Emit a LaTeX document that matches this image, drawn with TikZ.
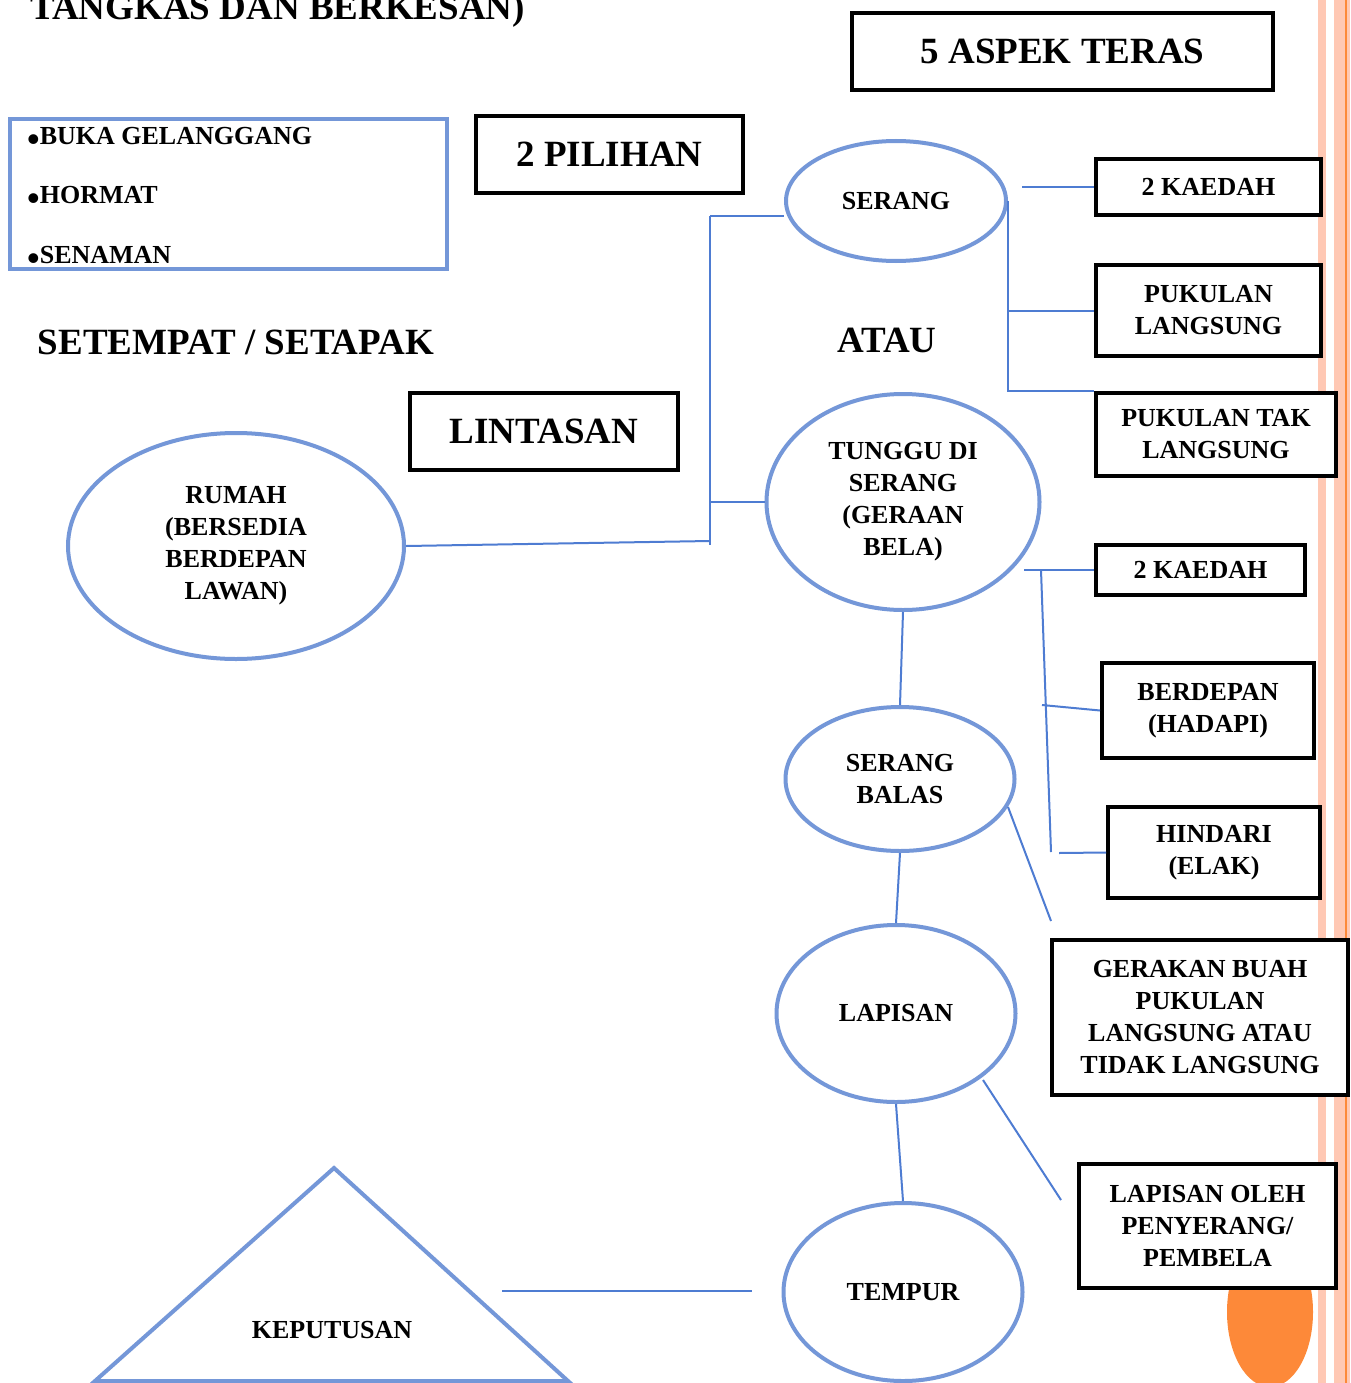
\documentclass[tikz,border=0pt]{standalone}
\usepackage{fontspec}
\setmainfont{Liberation Serif}
\usetikzlibrary{shapes.geometric}
\definecolor{ellblue}{RGB}{116,151,216}
\definecolor{connblue}{RGB}{78,124,210}
\definecolor{salmon}{RGB}{255,200,180}
\definecolor{orng}{RGB}{253,137,57}
\newcommand{\bigbul}{{\fontsize{36}{32}\selectfont\raisebox{-7pt}{•}}}
\tikzset{
  sm/.style={font=\bfseries\fontsize{26}{32}\selectfont},
  bg/.style={font=\bfseries\fontsize{37}{44}\selectfont},
  bbox/.style={draw=black, line width=4pt, fill=white, rectangle, inner sep=0pt, align=center, sm},
  ell/.style={draw=ellblue, line width=4pt, ellipse, inner sep=0pt, align=center, sm},
  conn/.style={draw=connblue, line width=2pt},
}
\begin{document}
\begin{tikzpicture}[x=1pt,y=-1pt]
\useasboundingbox (0,0) rectangle (1350,1383);
\clip (0,0) rectangle (1350,1383);
\fill[white] (0,0) rectangle (1350,1383);
% right stripes
\fill[salmon] (1318,0) rectangle (1326,1383);
\fill[salmon] (1334,0) rectangle (1350,1383);
\fill[orng] (1345,0) rectangle (1347,1383);
\fill[orng] (1270,1312) ellipse [x radius=43, y radius=75];

% title
\node[bg, anchor=base west, inner sep=0pt] (title) at (30,20) {TANGKAS DAN BERKESAN)};

% boxes
\node[bbox, bg, minimum width=421, minimum height=77] (aspek) at (1062.5,51.5) {5 ASPEK TERAS};
\node[bbox, bg, minimum width=267, minimum height=77] (pilihan) at (609.5,154.5) {2 PILIHAN};
\node[bbox, bg, minimum width=268, minimum height=77] (lintasan) at (544,431.5) {LINTASAN};
\node[bbox, minimum width=225, minimum height=56] (k1) at (1208.5,187) {2 KAEDAH};
\node[bbox, minimum width=225, minimum height=91] (pl) at (1208.5,310.5) {PUKULAN\\LANGSUNG};
\node[bbox, minimum width=240, minimum height=83] (ptl) at (1216,434.5) {PUKULAN TAK\\LANGSUNG};
\node[bbox, minimum width=209, minimum height=50] (k2) at (1200.5,570) {2 KAEDAH};
\node[bbox, minimum width=212, minimum height=95] (bd) at (1208,710.5) {BERDEPAN\\(HADAPI)};
\node[bbox, minimum width=212, minimum height=91] (hd) at (1214,852.5) {HINDARI\\(ELAK)};
\node[bbox, minimum width=296, minimum height=155] (gb) at (1200,1017.5) {GERAKAN BUAH\\PUKULAN\\LANGSUNG ATAU\\TIDAK LANGSUNG};
\node[bbox, minimum width=257, minimum height=124] (lo) at (1207.5,1226) {LAPISAN OLEH\\PENYERANG/\\PEMBELA};

% blue list box
\node[draw=ellblue, line width=4pt, rectangle, minimum width=437, minimum height=150, inner sep=0pt] (list) at (228.5,194) {};
\node[sm, anchor=base west, inner sep=0pt] (li1) at (27,145) {\bigbul BUKA GELANGGANG};
\node[sm, anchor=base west, inner sep=0pt] (li2) at (27,204) {\bigbul HORMAT};
\node[sm, anchor=base west, inner sep=0pt] (li3) at (27,263) {\bigbul SENAMAN};

% free labels
\node[bg] (setempat) at (236,342) {SETEMPAT / SETAPAK};
\node[bg] (atau) at (887,340) {ATAU};

% ellipses
\node[ell, minimum width=220, minimum height=120] (serang) at (896,201) {SERANG};
\node[ell, minimum width=273, minimum height=216] (tunggu) at (903,502) {TUNGGU DI\\SERANG\\(GERAAN\\BELA)};
\node[ell, minimum width=336, minimum height=226] (rumah) at (236,546) {RUMAH\\(BERSEDIA\\BERDEPAN\\LAWAN)};
\node[ell, minimum width=229, minimum height=144] (sb) at (900,779) {SERANG\\BALAS};
\node[ell, minimum width=239, minimum height=177] (lap) at (896,1013.5) {LAPISAN};
\node[ell, minimum width=239, minimum height=178] (tempur) at (903,1292) {TEMPUR};

% triangle
\draw[draw=ellblue, line width=4pt, line join=miter] (334,1168) -- (568,1381) -- (95,1381) -- cycle;
\node[sm] (kep) at (332,1330) {KEPUTUSAN};

% connector coordinates
\coordinate (sp1) at (710,216);
\coordinate (sp2) at (710,502);
\coordinate (sp3) at (710,545);
\coordinate (sr1) at (1022,187);
\coordinate (tk1) at (1024,570);
\coordinate (ts1) at (1041,570);
\coordinate (ts2) at (1051,852);
\coordinate (tb1) at (1042,705);
\coordinate (th1) at (1059,853);
\coordinate (sbg1) at (1008,807);
\coordinate (sbg2) at (1051,921);
\coordinate (lp1) at (983,1080);
\coordinate (lp2) at (1061,1200);
\coordinate (kt1) at (502,1291);
\coordinate (kt2) at (752,1291);

% connectors
\draw[conn] (sp1) -- (sp3);
\draw[conn] (sp1) -- (sp1 -| serang.west);
\draw[conn] (sp2) -- (tunggu.west);
\draw[conn] (rumah.east) -- (710,541);
\draw[conn] (sr1) -- (k1.west);
\draw[conn] (serang.east) |- (ptl.north west);
\draw[conn] (serang.east |- pl.west) -- (pl.west);
\draw[conn] (tk1) -- (k2.west);
\draw[conn] (ts1) -- (ts2);
\draw[conn] (tb1) -- (bd.west);
\draw[conn] (th1) -- (hd.west);
\draw[conn] (sbg1) -- (sbg2);
\draw[conn] (lp1) -- (lp2);
\draw[conn] (tunggu.south) -- (sb.north);
\draw[conn] (sb.south) -- (lap.north);
\draw[conn] (lap.south) -- (tempur.north);
\draw[conn] (kt1) -- (kt2);
\end{tikzpicture}
\end{document}
